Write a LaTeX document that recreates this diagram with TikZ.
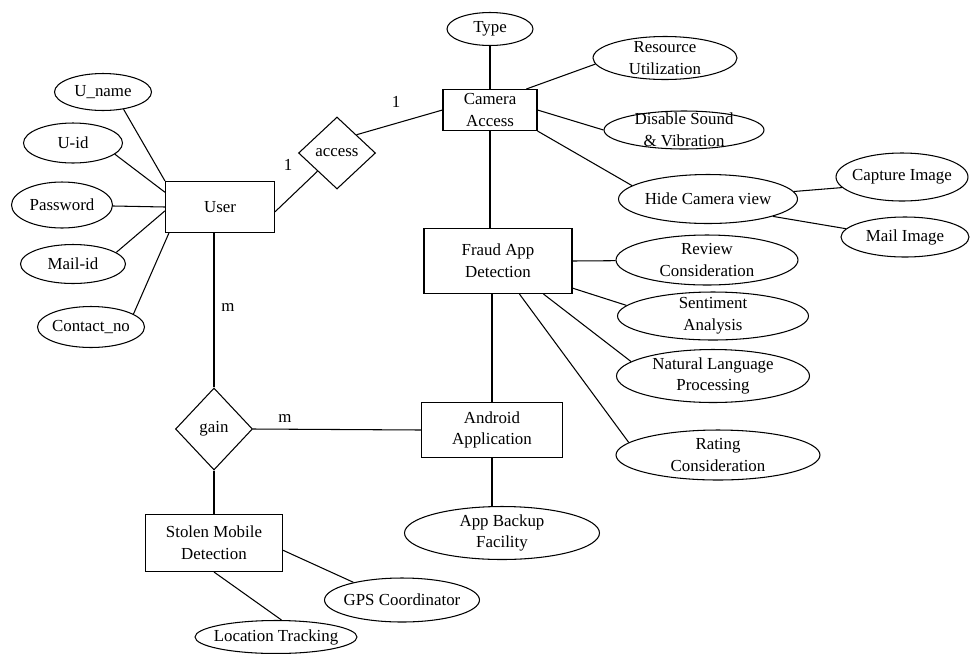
\documentclass[tikz,border=0pt]{standalone}
\usepackage{fontspec}
\setmainfont{Liberation Serif}
\usetikzlibrary{shapes.geometric}

\begin{document}
\begin{tikzpicture}[x=0.02cm, y=-0.02cm, line width=0.6pt,
  font=\fontsize{9.6}{12.3}\selectfont,
  attr/.style={draw, ellipse, align=center, inner xsep=-3pt, inner ysep=-4pt},
  ent/.style={draw, rectangle, align=center, inner sep=1pt},
  rel/.style={draw, diamond, inner sep=0pt},
  card/.style={inner sep=1pt}]
  \useasboundingbox (0,0) rectangle (970,653);
  % user side
  \node[ent, minimum width=2.18cm, minimum height=1.02cm] (user) at (220,207) {User} ;
  \node[attr, minimum width=1.94cm, minimum height=0.74cm] (uname) at (103,92) {U\_name} ;
  \node[attr, minimum width=1.98cm, minimum height=0.80cm] (uid) at (73,143) {U-id} ;
  \node[attr, minimum width=2.02cm, minimum height=0.92cm] (pwd) at (62,205) {Password} ;
  \node[attr, minimum width=2.10cm, minimum height=0.78cm] (mailid) at (73,264) {Mail-id} ;
  \node[attr, minimum width=2.14cm, minimum height=0.82cm] (contact) at (91,327) {Contact\_no} ;
  \node[rel, minimum width=1.54cm, minimum height=1.44cm] (access) at (337,153) {access} ;
  \node[rel, minimum width=1.54cm, minimum height=1.64cm] (gain) at (214,429) {gain} ;
  \node[ent, minimum width=2.74cm, minimum height=1.14cm] (stolen) at (214,543) {Stolen Mobile\\Detection} ;
  \node[attr, minimum width=3.10cm, minimum height=0.88cm] (gps) at (402,600) {GPS Coordinator} ;
  \node[attr, minimum width=3.24cm, minimum height=0.66cm] (loc) at (276,637) {Location Tracking} ;
  % camera side
  \node[ent, minimum width=1.88cm, minimum height=0.82cm] (camera) at (490,110) {Camera\\Access} ;
  \node[attr, minimum width=1.72cm, minimum height=0.66cm] (type) at (490,29) {Type} ;
  \node[attr, minimum width=2.88cm, minimum height=0.86cm] (resource) at (665,58) {Resource\\Utilization} ;
  \node[attr, minimum width=3.20cm, minimum height=0.76cm] (disable) at (684,130) {Disable Sound\\\& Vibration} ;
  \node[attr, minimum width=3.58cm, minimum height=0.98cm] (hide) at (708,199) {Hide Camera view} ;
  \node[attr, minimum width=2.64cm, minimum height=0.96cm] (capture) at (902,177) {Capture Image} ;
  \node[attr, minimum width=2.56cm, minimum height=0.80cm] (mailimg) at (905,237) {Mail Image} ;
  % fraud detection
  \node[ent, minimum width=2.96cm, minimum height=1.30cm] (fraud) at (498,261) {Fraud App\\Detection} ;
  \node[attr, minimum width=3.64cm, minimum height=1.00cm] (review) at (707,260) {Review\\Consideration} ;
  \node[attr, minimum width=3.82cm, minimum height=0.96cm] (senti) at (713,316) {Sentiment\\Analysis} ;
  \node[attr, minimum width=3.86cm, minimum height=1.06cm] (nlp) at (713,376) {Natural Language\\Processing} ;
  \node[attr, minimum width=4.08cm, minimum height=1.00cm] (rating) at (718,455) {Rating\\Consideration} ;
  \node[ent, minimum width=2.82cm, minimum height=1.10cm] (android) at (492,430) {Android\\Application} ;
  \node[attr, minimum width=3.90cm, minimum height=1.06cm] (backup) at (502,533) {App Backup\\Facility} ;
  % cardinalities
  \node[card] (cardA) at (396,102) {1} ;
  \node[card] (cardB) at (288,165) {1} ;
  \node[card] (cardC) at (228,308) {m} ;
  \node[card] (cardD) at (285,419) {m} ;
  % connectors
  \draw (uname.-40) -- (user.north west) ;
  \draw (uid.-15) -- (user.165) ;
  \draw (pwd) -- (user.west) ;
  \draw (mailid.15) -- (user.184) ;
  \draw (contact.17) -- (user.207) ;
  \draw (user.-5) -- (access.south west) ;
  \draw (access.north east) -- (camera.west) ;
  \draw (type) -- (camera) ;
  \draw (camera.30) -- (resource.185) ;
  \draw (camera.east) -- (disable.west) ;
  \draw (camera.south east) -- (hide.170) ;
  \draw (hide.5) -- (capture.190) ;
  \draw (hide.-15) -- (mailimg.172) ;
  \draw (camera.south) -- (camera.south |- fraud.north) ;
  \draw (fraud.east) -- (review) ;
  \draw (fraud.-20) -- (senti.173) ;
  \draw (fraud.-36) -- (nlp.170) ;
  \draw (fraud.-57) -- (rating.172) ;
  \draw (android.north) -- (android.north |- fraud.south) ;
  \draw (android.south) -- (android.south |- backup.north) ;
  \draw (gain.east) -- (android.west) ;
  \draw (gain.north) -- (gain.north |- user.south) ;
  \draw (gain.south) -- (stolen.north) ;
  \draw (stolen.-6) -- (gps.160) ;
  \draw (stolen.south) -- (loc.72) ;
\end{tikzpicture}
\end{document}
